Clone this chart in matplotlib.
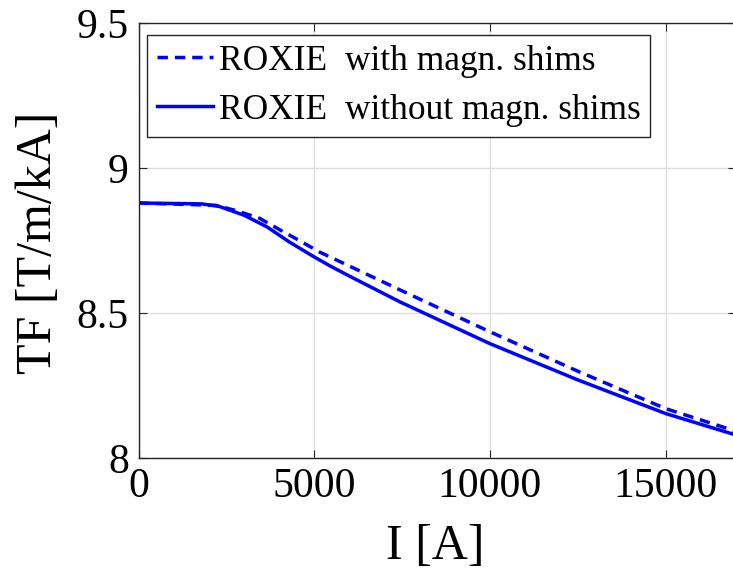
import matplotlib
matplotlib.use('Agg')
import matplotlib.pyplot as plt

# current [A] and transfer function [T/m/kA]
i_without = [0, 1800, 2300, 3000, 3650, 4300, 5000, 5450, 6000, 7440, 10000, 12500, 15000, 17000]
tf_without = [8.88, 8.877, 8.868, 8.838, 8.798, 8.745, 8.694, 8.663, 8.628, 8.539, 8.395, 8.27, 8.154, 8.08]

i_with = [0, 2200, 2800, 3450, 4000, 4600, 5150, 7500, 10000, 12500, 15000, 17000]
tf_with = [8.88, 8.872, 8.853, 8.827, 8.789, 8.749, 8.711, 8.577, 8.436, 8.30, 8.171, 8.093]

plt.rcParams['font.family'] = ['Liberation Serif', 'DejaVu Serif']

fig = plt.figure(figsize=(7.33, 5.8), dpi=100)
ax = fig.add_axes([0.189, 0.210, 0.815, 0.750])

ax.plot(i_with, tf_with, '--', color='#0000ff', lw=2.5, dashes=(3, 2),
        label='ROXIE  with magn. shims')
ax.plot(i_without, tf_without, '-', color='#0000ff', lw=2.5,
        label='ROXIE  without magn. shims')

ax.set_xlim(0, 17000)
ax.set_ylim(8, 9.5)
ax.set_xticks([0, 5000, 10000, 15000])
ax.set_yticks([8, 8.5, 9, 9.5])
ax.set_yticklabels(['8', '8.5', '9', '9.5'])
ax.grid(True, color='#dedede', lw=1)
ax.tick_params(direction='in', top=True, right=True, labelsize=30, length=6,
               color='#262626', pad=7)
for s in ax.spines.values():
    s.set_color('#262626')
    s.set_linewidth(1)

ax.set_xlabel('I [A]', fontsize=36)
ax.set_ylabel('TF [T/m/kA]', fontsize=36)
ax.xaxis.set_label_coords(0.497, -0.150)
ax.yaxis.set_label_coords(-0.128, 0.494)

leg = ax.legend(loc='upper left', bbox_to_anchor=(0.014, 0.973), fontsize=25.5,
                handlelength=1.6, handletextpad=0.15, borderpad=0.28,
                labelspacing=0.45, fancybox=False, framealpha=1,
                borderaxespad=0)
leg.get_frame().set_edgecolor('#262626')
leg.get_frame().set_linewidth(1)

fig.savefig('out.png', dpi=100)
